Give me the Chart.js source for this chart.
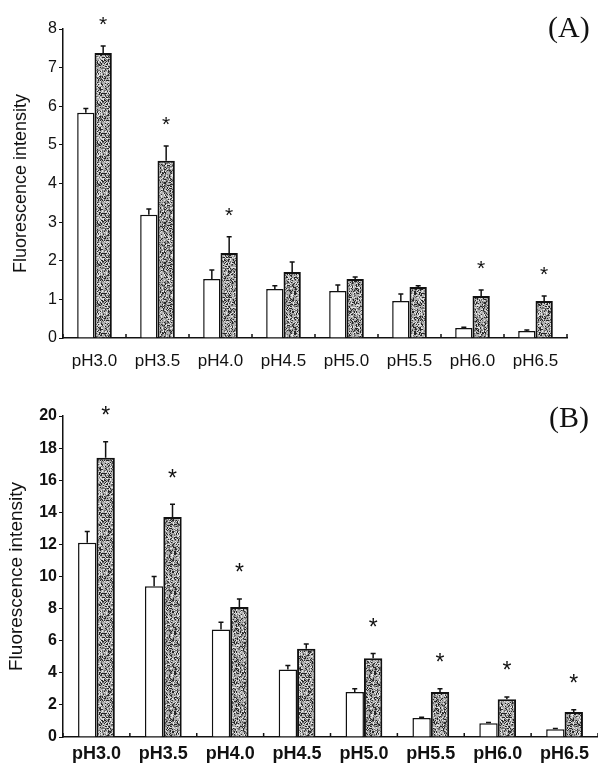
<!DOCTYPE html>
<html>
<head>
<meta charset="utf-8">
<script src="https://cdn.jsdelivr.net/npm/chart.js@4.4.1/dist/chart.umd.min.js"></script>
<style>
  body { margin: 0; background: #fff; }
  #wrap { position: relative; width: 598px; height: 769px; overflow: hidden; }
  canvas { position: absolute; left: 0; }
  #chartA { top: 0; }
  #chartB { top: 380px; }
  .panel { position: absolute; font-family: "Liberation Serif", "DejaVu Serif", serif; font-size: 30px; color: #111; }
</style>
</head>
<body>
<div id="wrap">
  <canvas id="chartA" width="598" height="380"></canvas>
  <canvas id="chartB" width="598" height="389"></canvas>
  <span class="panel" style="left:548px; top:10px;">(A)</span>
  <span class="panel" style="left:549px; top:400px;">(B)</span>
</div>
<script>
const categories = ["pH3.0", "pH3.5", "pH4.0", "pH4.5", "pH5.0", "pH5.5", "pH6.0", "pH6.5"];

// panel A
const controlA = [5.83, 3.19, 1.53, 1.27, 1.22, 0.96, 0.26, 0.18];
const controlErrA = [0.11, 0.15, 0.23, 0.08, 0.15, 0.18, 0.02, 0.03];
const treatedA = [7.38, 4.59, 2.20, 1.71, 1.53, 1.32, 1.09, 0.96];
const treatedErrA = [0.18, 0.38, 0.42, 0.26, 0.05, 0.03, 0.15, 0.13];
const starsA = [true, true, true, false, false, false, true, true];
const ticksA = [0, 1, 2, 3, 4, 5, 6, 7, 8];

// panel B
const controlB = [12.1, 9.4, 6.7, 4.2, 2.8, 1.18, 0.85, 0.48];
const controlErrB = [0.7, 0.6, 0.45, 0.25, 0.2, 0.05, 0.05, 0.05];
const treatedB = [17.4, 13.7, 8.1, 5.5, 4.9, 2.8, 2.35, 1.55];
const treatedErrB = [1.0, 0.8, 0.5, 0.3, 0.3, 0.2, 0.15, 0.15];
const starsB = [true, true, true, false, true, true, true, true];
const ticksB = [0, 2, 4, 6, 8, 10, 12, 14, 16, 18, 20];

// mottled fill for the treated bars (fixed hash, not data)
function makeSpeckle() {
  const n = 40;
  const c = document.createElement("canvas");
  c.width = n; c.height = n;
  const g = c.getContext("2d");
  g.fillStyle = "#b0b0b0";
  g.fillRect(0, 0, n, n);
  for (let y = 0; y < n; y++) {
    for (let x = 0; x < n; x++) {
      let h = (x * 374761393 + y * 668265263) | 0;
      h = Math.imul(h ^ (h >>> 13), 1274126177);
      h = (h ^ (h >>> 16)) >>> 0;
      const v = h % 100;
      if (v < 22) g.fillStyle = "#262626";
      else if (v < 40) g.fillStyle = "#6e6e6e";
      else if (v < 58) g.fillStyle = "#e6e6e6";
      else continue;
      g.fillRect(x, y, 1, 1);
    }
  }
  return g.createPattern(c, "repeat");
}
const speckle = makeSpeckle();

const errorBars = {
  id: "errorBars",
  afterDatasetsDraw(chart, args, opts) {
    const ctx = chart.ctx;
    const y = chart.scales.y;
    ctx.save();
    ctx.strokeStyle = "#111";
    ctx.lineWidth = 1.5;
    chart.data.datasets.forEach((ds, d) => {
      const meta = chart.getDatasetMeta(d);
      meta.data.forEach((bar, i) => {
        const top = y.getPixelForValue(ds.data[i] + ds.errors[i]);
        ctx.beginPath();
        ctx.moveTo(bar.x, bar.y);
        ctx.lineTo(bar.x, top);
        ctx.moveTo(bar.x - 2.5, top);
        ctx.lineTo(bar.x + 2.5, top);
        ctx.stroke();
        if (ds.stars && ds.stars[i]) {
          ctx.fillStyle = "#111";
          ctx.font = opts.starFont;
          ctx.textAlign = "center";
          ctx.textBaseline = "middle";
          ctx.fillText("*", bar.x, top - opts.starGap);
        }
      });
    });
    // short upward ticks between categories
    const x = chart.scales.x;
    const half = (x.getPixelForValue(1) - x.getPixelForValue(0)) / 2;
    ctx.beginPath();
    for (let i = 0; i <= categories.length; i++) {
      const px = x.getPixelForValue(0) - half + i * 2 * half;
      ctx.moveTo(px, x.top);
      ctx.lineTo(px, x.top - 4);
    }
    ctx.stroke();
    ctx.restore();
  }
};

function makeChart(id, control, controlErr, treated, treatedErr, stars, tickVals, cfg) {
  return new Chart(document.getElementById(id), {
    type: "bar",
    data: {
      labels: categories,
      datasets: [
        { data: control, errors: controlErr, backgroundColor: "#fff", borderColor: "#111", borderWidth: 1.5 },
        { data: treated, errors: treatedErr, stars: stars, backgroundColor: speckle, borderColor: "#111", borderWidth: 2 }
      ]
    },
    options: {
      responsive: false,
      animation: false,
      devicePixelRatio: 1,
      layout: { padding: { top: cfg.top, right: cfg.right, left: 0, bottom: 0 } },
      plugins: {
        legend: { display: false },
        tooltip: { enabled: false },
        errorBars: { starFont: cfg.starFont, starGap: cfg.starGap }
      },
      datasets: { bar: { categoryPercentage: 0.55, barPercentage: 1.0 } },
      scales: {
        x: {
          grid: { display: false, drawTicks: false },
          border: { display: true, color: "#111", width: 1.5 },
          ticks: { color: "#111", font: cfg.xFont, padding: cfg.xPad, maxRotation: 0 },
          afterFit(s) { s.height = cfg.xHeight; }
        },
        y: {
          min: 0,
          max: tickVals[tickVals.length - 1],
          afterBuildTicks(s) { s.ticks = tickVals.map(v => ({ value: v })); },
          grid: { drawOnChartArea: false, drawTicks: true, tickLength: 4, color: "#111" },
          border: { display: true, color: "#111", width: 1.5 },
          ticks: { color: "#111", font: cfg.yFont, padding: 2 },
          title: {
            display: true,
            text: "Fluorescence intensity",
            color: "#111",
            font: cfg.titleFont,
            padding: { top: cfg.titlePad, bottom: 0 }
          },
          afterFit(s) { s.width = 63; }
        }
      }
    },
    plugins: [errorBars]
  });
}

makeChart("chartA", controlA, controlErrA, treatedA, treatedErrA, starsA, ticksA, {
  top: 29, right: 31, xHeight: 42, xPad: 13,
  xFont: { family: "Liberation Sans, Arial, sans-serif", size: 17 },
  yFont: { family: "Liberation Sans, Arial, sans-serif", size: 16 },
  titleFont: { family: "Liberation Sans, Arial, sans-serif", size: 18 },
  titlePad: 10,
  starFont: "21px 'Liberation Sans', Arial, sans-serif", starGap: 21
});

makeChart("chartB", controlB, controlErrB, treatedB, treatedErrB, starsB, ticksB, {
  top: 36, right: 0, xHeight: 32, xPad: 6,
  xFont: { family: "Liberation Sans, Arial, sans-serif", size: 18, weight: "bold" },
  yFont: { family: "Liberation Sans, Arial, sans-serif", size: 16, weight: "bold" },
  titleFont: { family: "Liberation Sans, Arial, sans-serif", size: 19 },
  titlePad: 5,
  starFont: "23px 'Liberation Sans', Arial, sans-serif", starGap: 25
});
</script>
</body>
</html>
